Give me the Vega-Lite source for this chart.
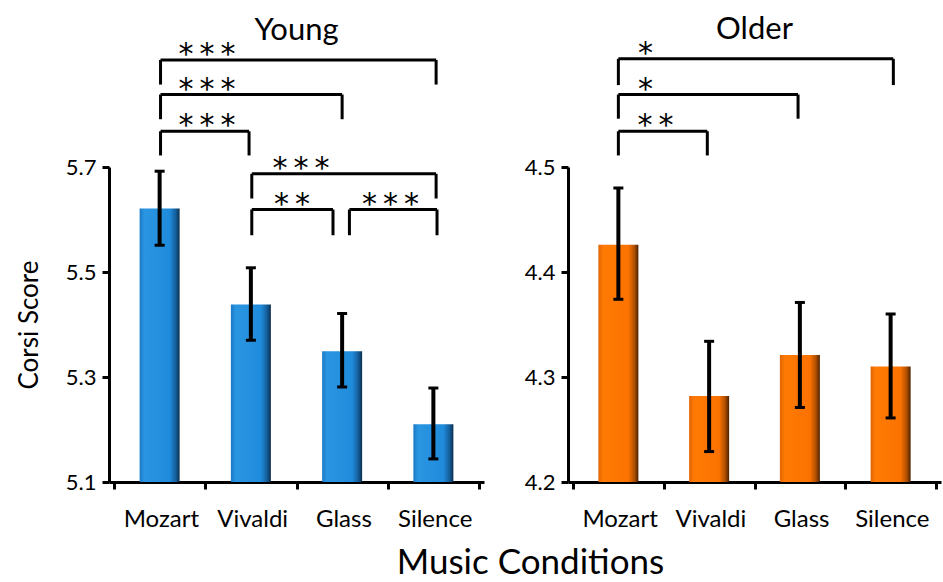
{
  "$schema": "https://vega.github.io/schema/vega-lite/v6.json",
  "padding": {"left": 16, "top": 13, "right": 0, "bottom": 0},
  "spacing": -2,
  "background": "white",
  "config": {
    "font": "Lato",
    "view": {"stroke": null},
    "axis": {"grid": false, "domainColor": "black", "domainWidth": 3, "tickColor": "black", "tickWidth": 3, "tickSize": 7, "labelColor": "black", "titleColor": "black", "labelFont": "Lato", "titleFont": "Lato"}
  },
  "title": {"text": "Music Conditions", "orient": "bottom", "anchor": "middle", "fontSize": 35, "fontWeight": "normal", "color": "black", "dx": 31, "offset": 15},
  "datasets": {
    "bars": [
      {"group": "Young", "cond": "Mozart", "idx": 1, "mean": 5.621, "lo": 5.551, "hi": 5.692},
      {"group": "Young", "cond": "Vivaldi", "idx": 2, "mean": 5.438, "lo": 5.370, "hi": 5.508},
      {"group": "Young", "cond": "Glass", "idx": 3, "mean": 5.349, "lo": 5.281, "hi": 5.421},
      {"group": "Young", "cond": "Silence", "idx": 4, "mean": 5.210, "lo": 5.144, "hi": 5.279},
      {"group": "Older", "cond": "Mozart", "idx": 1, "mean": 4.426, "lo": 4.374, "hi": 4.480},
      {"group": "Older", "cond": "Vivaldi", "idx": 2, "mean": 4.282, "lo": 4.229, "hi": 4.334},
      {"group": "Older", "cond": "Glass", "idx": 3, "mean": 4.321, "lo": 4.271, "hi": 4.371},
      {"group": "Older", "cond": "Silence", "idx": 4, "mean": 4.310, "lo": 4.261, "hi": 4.360}
    ],
    "brackets": [
      {"group": "Young", "from": 1.01, "to": 4.03, "top": 5.904, "bottom": 5.857, "stars": "*\u2009*\u2009*", "sx": 1.52},
      {"group": "Young", "from": 1.01, "to": 3.0, "top": 5.838, "bottom": 5.791, "stars": "*\u2009*\u2009*", "sx": 1.52},
      {"group": "Young", "from": 1.01, "to": 1.98, "top": 5.768, "bottom": 5.722, "stars": "*\u2009*\u2009*", "sx": 1.52},
      {"group": "Young", "from": 2.01, "to": 4.03, "top": 5.687, "bottom": 5.640, "stars": "*\u2009*\u2009*", "sx": 2.55},
      {"group": "Young", "from": 2.01, "to": 2.9, "top": 5.619, "bottom": 5.570, "stars": "*\u2009*", "sx": 2.45},
      {"group": "Young", "from": 3.08, "to": 4.04, "top": 5.619, "bottom": 5.570, "stars": "*\u2009*\u2009*", "sx": 3.53},
      {"group": "Older", "from": 1.0, "to": 4.03, "top": 4.603, "bottom": 4.578, "stars": "*", "sx": 1.30},
      {"group": "Older", "from": 1.0, "to": 2.98, "top": 4.569, "bottom": 4.546, "stars": "*", "sx": 1.30},
      {"group": "Older", "from": 1.0, "to": 1.98, "top": 4.534, "bottom": 4.511, "stars": "*\u2009*", "sx": 1.41}
    ]
  },
  "hconcat": [
    {
      "width": 375,
      "height": 315,
      "title": {"text": "Young", "fontSize": 31, "fontWeight": "normal", "color": "black", "frame": "group", "anchor": "middle", "offset": -7},
      "layer": [
        {
          "data": {"name": "bars"},
          "transform": [{"filter": "datum.group === 'Young'"}],
          "mark": {"type": "bar", "width": 40, "color": {"gradient": "linear", "x1": 0, "y1": 0, "x2": 1, "y2": 0, "stops": [{"offset": 0, "color": "#1b78c4"}, {"offset": 0.12, "color": "#2a96e2"}, {"offset": 0.75, "color": "#1f8bdb"}, {"offset": 0.9, "color": "#155f9c"}, {"offset": 1, "color": "#0a2f4f"}]}},
          "encoding": {
            "x": {"field": "idx", "type": "quantitative", "scale": {"domain": [0.5, 4.5], "nice": false, "zero": false},
              "axis": {"values": [0.5, 1.5, 2.5, 3.5, 4.5], "title": null, "labelExpr": "datum.value == 0.5 ? 'Mozart' : datum.value == 1.5 ? 'Vivaldi' : datum.value == 2.5 ? 'Glass' : datum.value == 3.5 ? 'Silence' : ''", "labelOffset": 46.9, "labelFontSize": 24, "labelPadding": 18, "labelFlush": false, "labelOverlap": false, "labelBound": false}},
            "y": {"field": "mean", "type": "quantitative", "scale": {"domain": [5.1, 5.7], "nice": false, "zero": false},
              "axis": {"values": [5.1, 5.3, 5.5, 5.7], "format": ".1f", "title": "Corsi Score", "titleFontSize": 26, "titleFontWeight": "normal", "titlePadding": 23, "labelFontSize": 22, "labelPadding": 6}},
            "y2": {"datum": 5.1}
          }
        },
        {
          "data": {"name": "bars"},
          "transform": [{"filter": "datum.group === 'Young'"}],
          "mark": {"type": "rule", "strokeWidth": 4, "color": "black"},
          "encoding": {"x": {"field": "idx", "type": "quantitative"}, "y": {"field": "lo", "type": "quantitative"}, "y2": {"field": "hi"}}
        },
        {
          "data": {"name": "bars"},
          "transform": [{"filter": "datum.group === 'Young'"}],
          "mark": {"type": "tick", "orient": "horizontal", "size": 10, "thickness": 3, "color": "black", "opacity": 1},
          "encoding": {"x": {"field": "idx", "type": "quantitative"}, "y": {"field": "lo", "type": "quantitative"}}
        },
        {
          "data": {"name": "bars"},
          "transform": [{"filter": "datum.group === 'Young'"}],
          "mark": {"type": "tick", "orient": "horizontal", "size": 10, "thickness": 3, "color": "black", "opacity": 1},
          "encoding": {"x": {"field": "idx", "type": "quantitative"}, "y": {"field": "hi", "type": "quantitative"}}
        },
        {
          "data": {"name": "brackets"},
          "transform": [{"filter": "datum.group === 'Young'"}],
          "mark": {"type": "rule", "strokeWidth": 3, "color": "black"},
          "encoding": {"x": {"field": "from", "type": "quantitative"}, "x2": {"field": "to"}, "y": {"field": "top", "type": "quantitative"}}
        },
        {
          "data": {"name": "brackets"},
          "transform": [{"filter": "datum.group === 'Young'"}],
          "mark": {"type": "rule", "strokeWidth": 3, "color": "black"},
          "encoding": {"x": {"field": "from", "type": "quantitative"}, "y": {"field": "top", "type": "quantitative"}, "y2": {"field": "bottom"}}
        },
        {
          "data": {"name": "brackets"},
          "transform": [{"filter": "datum.group === 'Young'"}],
          "mark": {"type": "rule", "strokeWidth": 3, "color": "black"},
          "encoding": {"x": {"field": "to", "type": "quantitative"}, "y": {"field": "top", "type": "quantitative"}, "y2": {"field": "bottom"}}
        },
        {
          "data": {"name": "brackets"},
          "transform": [{"filter": "datum.group === 'Young'"}],
          "mark": {"type": "text", "fontSize": 30, "baseline": "alphabetic", "align": "center", "dy": 4, "color": "black", "font": "DejaVu Sans"},
          "encoding": {"x": {"field": "sx", "type": "quantitative"}, "y": {"field": "top", "type": "quantitative"}, "text": {"field": "stars"}}
        }
      ]
    },
    {
      "width": 373,
      "height": 315,
      "title": {"text": "Older", "fontSize": 31, "fontWeight": "normal", "color": "black", "frame": "group", "anchor": "middle", "offset": -7},
      "layer": [
        {
          "data": {"name": "bars"},
          "transform": [{"filter": "datum.group === 'Older'"}],
          "mark": {"type": "bar", "width": 40, "color": {"gradient": "linear", "x1": 0, "y1": 0, "x2": 1, "y2": 0, "stops": [{"offset": 0, "color": "#e06400"}, {"offset": 0.12, "color": "#ff7a05"}, {"offset": 0.75, "color": "#fb7200"}, {"offset": 0.9, "color": "#b04f00"}, {"offset": 1, "color": "#4a2000"}]}},
          "encoding": {
            "x": {"field": "idx", "type": "quantitative", "scale": {"domain": [0.5, 4.5], "nice": false, "zero": false},
              "axis": {"values": [0.5, 1.5, 2.5, 3.5, 4.5], "title": null, "labelExpr": "datum.value == 0.5 ? 'Mozart' : datum.value == 1.5 ? 'Vivaldi' : datum.value == 2.5 ? 'Glass' : datum.value == 3.5 ? 'Silence' : ''", "labelOffset": 46.6, "labelFontSize": 24, "labelPadding": 18, "labelFlush": false, "labelOverlap": false, "labelBound": false}},
            "y": {"field": "mean", "type": "quantitative", "scale": {"domain": [4.2, 4.5], "nice": false, "zero": false},
              "axis": {"values": [4.2, 4.3, 4.4, 4.5], "format": ".1f", "title": null, "labelFontSize": 22, "labelPadding": 6}},
            "y2": {"datum": 4.2}
          }
        },
        {
          "data": {"name": "bars"},
          "transform": [{"filter": "datum.group === 'Older'"}],
          "mark": {"type": "rule", "strokeWidth": 4, "color": "black"},
          "encoding": {"x": {"field": "idx", "type": "quantitative"}, "y": {"field": "lo", "type": "quantitative"}, "y2": {"field": "hi"}}
        },
        {
          "data": {"name": "bars"},
          "transform": [{"filter": "datum.group === 'Older'"}],
          "mark": {"type": "tick", "orient": "horizontal", "size": 10, "thickness": 3, "color": "black", "opacity": 1},
          "encoding": {"x": {"field": "idx", "type": "quantitative"}, "y": {"field": "lo", "type": "quantitative"}}
        },
        {
          "data": {"name": "bars"},
          "transform": [{"filter": "datum.group === 'Older'"}],
          "mark": {"type": "tick", "orient": "horizontal", "size": 10, "thickness": 3, "color": "black", "opacity": 1},
          "encoding": {"x": {"field": "idx", "type": "quantitative"}, "y": {"field": "hi", "type": "quantitative"}}
        },
        {
          "data": {"name": "brackets"},
          "transform": [{"filter": "datum.group === 'Older'"}],
          "mark": {"type": "rule", "strokeWidth": 3, "color": "black"},
          "encoding": {"x": {"field": "from", "type": "quantitative"}, "x2": {"field": "to"}, "y": {"field": "top", "type": "quantitative"}}
        },
        {
          "data": {"name": "brackets"},
          "transform": [{"filter": "datum.group === 'Older'"}],
          "mark": {"type": "rule", "strokeWidth": 3, "color": "black"},
          "encoding": {"x": {"field": "from", "type": "quantitative"}, "y": {"field": "top", "type": "quantitative"}, "y2": {"field": "bottom"}}
        },
        {
          "data": {"name": "brackets"},
          "transform": [{"filter": "datum.group === 'Older'"}],
          "mark": {"type": "rule", "strokeWidth": 3, "color": "black"},
          "encoding": {"x": {"field": "to", "type": "quantitative"}, "y": {"field": "top", "type": "quantitative"}, "y2": {"field": "bottom"}}
        },
        {
          "data": {"name": "brackets"},
          "transform": [{"filter": "datum.group === 'Older'"}],
          "mark": {"type": "text", "fontSize": 30, "baseline": "alphabetic", "align": "center", "dy": 4, "color": "black", "font": "DejaVu Sans"},
          "encoding": {"x": {"field": "sx", "type": "quantitative"}, "y": {"field": "top", "type": "quantitative"}, "text": {"field": "stars"}}
        }
      ]
    }
  ]
}
